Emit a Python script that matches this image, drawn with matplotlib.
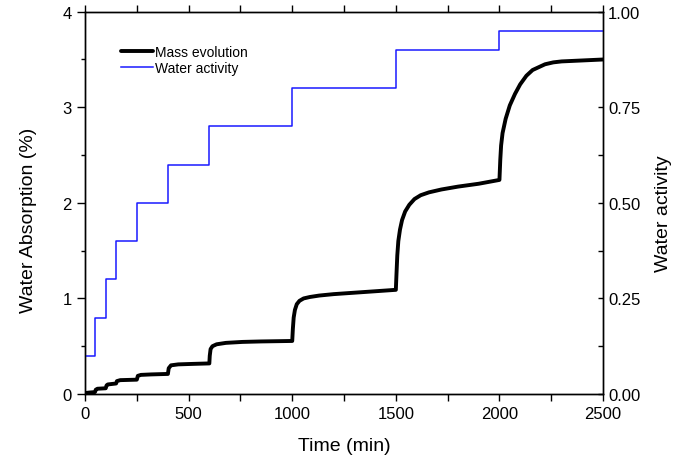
import matplotlib
matplotlib.use('Agg')
import matplotlib.pyplot as plt
from matplotlib.ticker import MultipleLocator, FormatStrFormatter

plt.rcParams['font.family'] = ['Liberation Sans', 'DejaVu Sans']

# Mass evolution (water absorption, %)
tiempo = [0, 20, 48, 52, 60, 100, 104, 110, 150, 154, 170, 250, 255, 270, 320, 400,
          404, 415, 450, 520, 600, 602, 606, 615, 635, 680, 760, 850, 1000,
          1003, 1007, 1013, 1022, 1035, 1055, 1085, 1130, 1200, 1300, 1400, 1500,
          1503, 1507, 1512, 1520, 1530, 1545, 1565, 1590, 1620, 1660, 1720, 1800, 1900, 2000,
          2004, 2008, 2015, 2030, 2050, 2075, 2100, 2130, 2160, 2190, 2220, 2260, 2300, 2400, 2500]
masa = [0.01, 0.015, 0.02, 0.045, 0.055, 0.06, 0.09, 0.10, 0.11, 0.135, 0.145, 0.15, 0.19, 0.20, 0.205, 0.21,
        0.27, 0.30, 0.31, 0.315, 0.32, 0.40, 0.47, 0.50, 0.52, 0.535, 0.545, 0.55, 0.555,
        0.68, 0.80, 0.88, 0.94, 0.975, 1.00, 1.015, 1.03, 1.045, 1.06, 1.075, 1.09,
        1.25, 1.45, 1.60, 1.72, 1.82, 1.91, 1.98, 2.04, 2.08, 2.11, 2.14, 2.17, 2.20, 2.24,
        2.45, 2.60, 2.73, 2.88, 3.02, 3.14, 3.24, 3.33, 3.39, 3.42, 3.45, 3.47, 3.48, 3.49, 3.50]

# Water activity steps
t_aw = [0, 50, 100, 150, 250, 400, 600, 1000, 1500, 2000, 2500]
aw = [0.10, 0.20, 0.30, 0.40, 0.50, 0.60, 0.70, 0.80, 0.90, 0.95, 0.95]

fig = plt.figure(figsize=(6.9, 4.64), dpi=100)
ax = fig.add_axes([0.1232, 0.1487, 0.7508, 0.8239])
ax2 = ax.twinx()

l1, = ax.plot(tiempo, masa, color='black', lw=2.8, solid_joinstyle='round',
              solid_capstyle='round', label='Mass evolution')
l2, = ax2.plot(t_aw, aw, color='#1a1aff', lw=1.1, drawstyle='steps-post',
               label='Water activity')

ax.set_xlim(0, 2500)
ax.set_ylim(0, 4)
ax2.set_ylim(0, 1)

ax.xaxis.set_major_locator(MultipleLocator(500))
ax.xaxis.set_minor_locator(MultipleLocator(250))
ax.yaxis.set_major_locator(MultipleLocator(1))
ax.yaxis.set_minor_locator(MultipleLocator(0.5))
ax2.yaxis.set_major_locator(MultipleLocator(0.25))
ax2.yaxis.set_minor_locator(MultipleLocator(0.125))
ax2.yaxis.set_major_formatter(FormatStrFormatter('%.2f'))

ax.tick_params(axis='x', which='both', direction='out', length=5, width=1,
               top=True, labelsize=12)
ax.tick_params(axis='y', which='major', direction='out', length=6, width=1, labelsize=12)
ax.tick_params(axis='y', which='minor', direction='out', length=3, width=1)
ax2.tick_params(axis='y', which='both', direction='in', length=3.5, width=1, labelsize=12)

for a in (ax, ax2):
    for s in a.spines.values():
        s.set_linewidth(1.0)

ax.set_xlabel('Time (min)', fontsize=14, labelpad=12)
ax.set_ylabel('Water Absorption (%)', fontsize=14)
ax2.set_ylabel('Water activity', fontsize=14)
ax.yaxis.set_label_coords(-0.093, 0.457)
ax2.yaxis.set_label_coords(1.100, 0.473)

ax.legend(handles=[l1, l2], loc='center left', bbox_to_anchor=(0.069, 0.873),
          frameon=False, fontsize=10, handlelength=2.3, handletextpad=0.2,
          labelspacing=0.15, borderpad=0, borderaxespad=0)

fig.savefig('out.png', dpi=100)
